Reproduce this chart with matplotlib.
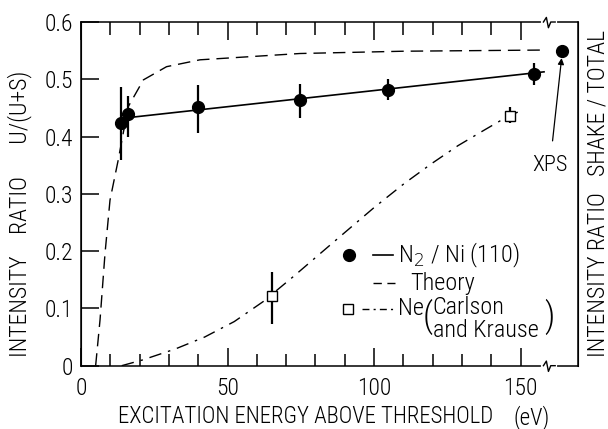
import matplotlib
matplotlib.use("Agg")
import matplotlib.pyplot as plt
import numpy as np

# N2/Ni(110) measurements
n2_x = [13.7, 16.1, 39.8, 74.7, 104.7, 154.7]
n2_y = [0.423, 0.440, 0.452, 0.464, 0.482, 0.510]
n2_lo = [0.359, 0.400, 0.407, 0.432, 0.464, 0.490]
n2_hi = [0.486, 0.471, 0.490, 0.492, 0.501, 0.528]
n2_fit_x = [16.0, 158.0]
n2_fit_y = [0.433, 0.513]

# XPS value (beyond axis break)
xps_x = [164.3]
xps_y = [0.550]

# theory curve
th_x = [5.0, 6.5, 8.2, 9.9, 12.7, 16.1, 21.3, 29.2, 40.6, 74.7, 110.0, 156.7]
th_y = [0.0, 0.08, 0.196, 0.289, 0.359, 0.452, 0.499, 0.522, 0.534, 0.545, 0.549, 0.551]

# Ne (Carlson and Krause)
ne_line_x = [13.9, 21.0, 32.1, 42.2, 52.3, 62.2, 72.8, 81.0, 89.9, 100.0,
             110.3, 119.7, 128.6, 137.5, 146.4, 149.8]
ne_line_y = [0.0, 0.010, 0.029, 0.050, 0.077, 0.112, 0.157, 0.193, 0.232, 0.276,
             0.318, 0.353, 0.384, 0.411, 0.4375, 0.444]
ne_x = [65.1, 146.4]
ne_y = [0.122, 0.436]
ne_lo = [0.072, 0.423]
ne_hi = [0.164, 0.452]

plt.rcParams['font.family'] = ['Roboto Condensed', 'Roboto', 'DejaVu Sans']
plt.rcParams['font.weight'] = 'light'
plt.rcParams['axes.labelweight'] = 'light'

fig = plt.figure(figsize=(6.08, 4.29), dpi=100)
ax = fig.add_axes([0.1332, 0.1476, 0.8175, 0.8011])

# theory
ax.plot(th_x, th_y, color='black', lw=1.0, dashes=(9, 5))

# N2 data
ax.plot(n2_fit_x, n2_fit_y, color='black', lw=1.2)
ax.errorbar(n2_x, n2_y,
            yerr=[np.array(n2_y) - np.array(n2_lo), np.array(n2_hi) - np.array(n2_y)],
            fmt='o', color='black', ms=8.5, elinewidth=1.6, capsize=0)
ax.plot(xps_x, xps_y, 'o', color='black', ms=8.5)

# Ne
ax.plot(ne_line_x, ne_line_y, color='black', lw=1.0, dashes=(9, 5, 1.8, 5))
ax.errorbar(ne_x, ne_y,
            yerr=[np.array(ne_y) - np.array(ne_lo), np.array(ne_hi) - np.array(ne_y)],
            fmt='s', mfc='white', mec='black', color='black', ms=7.5, mew=1.0,
            elinewidth=1.6, capsize=0, zorder=5)

ax.set_xlim(0, 169.6)
ax.set_ylim(0, 0.6)

ax.set_xticks([0, 50, 100, 150])
ax.set_xticklabels(['0', '50', '100', '150'])
ax.set_xticks(np.arange(10, 160, 10), minor=True)
ax.set_yticks([0, 0.1, 0.2, 0.3, 0.4, 0.5, 0.6])
ax.set_yticklabels(['0', '0.1', '0.2', '0.3', '0.4', '0.5', '0.6'])
ax.tick_params(axis='both', which='major', direction='in', length=13, width=1.1,
               labelsize=17, top=True, right=True)
ax.tick_params(axis='x', which='minor', direction='in', length=9, width=1.1, top=True)
ax.tick_params(axis='x', pad=8)
ax.tick_params(axis='y', pad=6)
for s in ax.spines.values():
    s.set_linewidth(1.1)

# axis break marks
for yb in (0.0, 0.6):
    ax.plot([157.8, 161.8], [yb, yb], color='white', lw=3, clip_on=False, zorder=6)
    ax.plot([157.8, 158.8, 159.5, 160.3, 161.8],
            [yb, yb + 0.008, yb - 0.01, yb, yb],
            color='black', lw=1.0, clip_on=False, zorder=7)

# axis titles
ax.text(0.451, -0.114, 'EXCITATION ENERGY ABOVE THRESHOLD', transform=ax.transAxes,
        fontsize=16.5, ha='center', va='top')
ax.text(0.9066, -0.114, '(eV)', transform=ax.transAxes, fontsize=16.5,
        ha='center', va='top')
ax.set_ylabel('INTENSITY    RATIO      U/(U+S)', fontsize=17, fontweight='light')
ax.yaxis.set_label_coords(-0.098, 0.441)
ax2 = ax.twinx()
ax2.set_ylim(0, 0.6)
ax2.set_yticks([])
ax2.set_ylabel('INTENSITY RATIO   SHAKE / TOTAL', fontsize=17, fontweight='light',
               labelpad=6)
ax2.spines['top'].set_visible(False)
ax2.spines['bottom'].set_visible(False)

# XPS annotation
ax.annotate('XPS', xy=(164.0, 0.537), xytext=(160.0, 0.350),
            ha='center', va='center', fontsize=16,
            arrowprops=dict(arrowstyle='-|>', color='black', lw=0.9,
                            shrinkA=8, shrinkB=0, mutation_scale=9))

# legend drawn by hand
ax.plot([91.5], [0.193], 'o', color='black', ms=8.5)
ax.plot([99.7, 106.5], [0.193, 0.193], color='black', lw=1.2)
ax.text(108.2, 0.193, r'N$_2$ / Ni (110)', fontsize=17.5, va='center')
ax.plot([99.7, 107.2], [0.144, 0.144], color='black', lw=1.0, dashes=(6, 4))
ax.text(112.3, 0.144, 'Theory', fontsize=17.5, va='center')
ax.plot([91.1], [0.099], 's', mfc='white', mec='black', ms=6.5, mew=1.0)
ax.plot([95.9, 106.5], [0.099, 0.099], color='black', lw=1.0, dashes=(5, 3, 1.5, 3))
ax.text(108.2, 0.099, 'Ne', fontsize=17.5, va='center')
ax.text(116.6, 0.086, '(', fontsize=25, va='center')
ax.text(120.0, 0.101, 'Carlson', fontsize=17.5, va='center')
ax.text(120.0, 0.061, 'and Krause', fontsize=17.5, va='center')
ax.text(158.0, 0.086, ')', fontsize=25, va='center')

fig.savefig('out.png', dpi=100)
